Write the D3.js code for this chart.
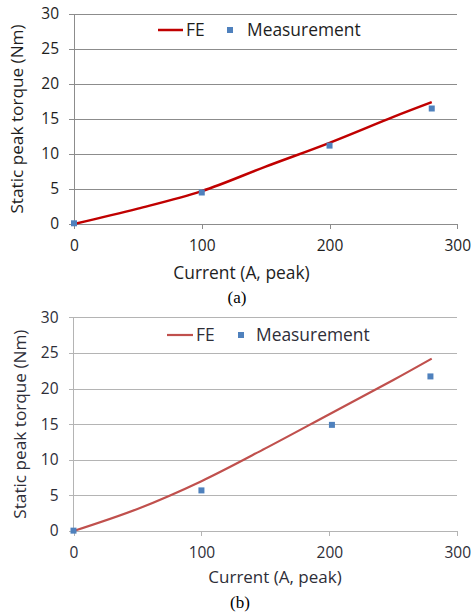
<!DOCTYPE html>
<html><head><meta charset="utf-8">
<script src="https://cdn.jsdelivr.net/npm/d3@7"></script>
<style>body{margin:0;background:#fff}svg{display:block}</style>
</head><body>
<svg id="c" width="473" height="616"></svg>
<script>
// ---- data ----
const currentTicks = [0, 100, 200, 300];
const torqueTicks = [0, 5, 10, 15, 20, 25, 30];
const feCurrentA = [0, 50, 100, 150, 200, 250, 280];
const feTorqueA = [0, 2.2, 4.7, 8.2, 11.6, 15.3, 17.4];
const measCurrentA = [0, 100, 200, 280];
const measTorqueA = [0.1, 4.5, 11.2, 16.5];
const feCurrentB = [0, 50, 100, 150, 200, 250, 280];
const feTorqueB = [0, 3.1, 7.0, 11.6, 16.4, 21.2, 24.2];
const measCurrentB = [0, 100, 202, 279];
const measTorqueB = [0.05, 5.7, 14.9, 21.7];
const seriesNames = ["FE", "Measurement"];
const captions = ["(a)", "(b)"];
const xTitle = "Current (A, peak)";
const yTitle = "Static peak torque (Nm)";

const svg = d3.select("#c");
const font = "'Open Sans', sans-serif";

function chart(cfg) {
  const x = d3.scaleLinear().domain([0, 300]).range([cfg.x0, cfg.x1]);
  const y = d3.scaleLinear().domain([0, 30]).range([cfg.y0, cfg.y1]);
  const g = svg.append("g");
  // grid + y ticks
  const ya = g.append("g").attr("transform", `translate(${cfg.x0},0)`)
    .call(d3.axisLeft(y).tickValues(torqueTicks).tickSize(-(cfg.x1 - cfg.x0)).tickSizeOuter(0));
  ya.select(".domain").remove();
  ya.selectAll(".tick line").attr("stroke", cfg.grid).attr("shape-rendering", "crispEdges")
    .attr("x1", -5).attr("x2", cfg.x1 - cfg.x0);
  ya.selectAll(".tick text").attr("x", -15).attr("font-family", font).attr("font-size", 15.5).attr("fill", cfg.text);
  // y axis line
  g.append("line").attr("x1", cfg.x0).attr("x2", cfg.x0).attr("y1", cfg.y0).attr("y2", cfg.y1)
    .attr("stroke", cfg.grid).attr("shape-rendering", "crispEdges");
  // x axis
  const xa = g.append("g").attr("transform", `translate(0,${cfg.y0})`)
    .call(d3.axisBottom(x).tickValues(currentTicks).tickSize(5).tickSizeOuter(0).tickPadding(11));
  xa.select(".domain").attr("stroke", cfg.grid).attr("shape-rendering", "crispEdges");
  xa.selectAll(".tick line").attr("stroke", cfg.grid).attr("shape-rendering", "crispEdges");
  xa.selectAll(".tick text").attr("font-family", font).attr("font-size", 15.5).attr("fill", cfg.text);
  // FE line
  const pts = cfg.feX.map((v, i) => [v, cfg.feY[i]]);
  g.append("path").datum(pts).attr("fill", "none").attr("stroke", cfg.lineColor).attr("stroke-width", cfg.lw)
    .attr("d", d3.line().x(d => x(d[0])).y(d => y(d[1])).curve(d3.curveCatmullRom.alpha(0.5)));
  // measurements
  g.selectAll("rect.m").data(cfg.mX.map((v, i) => [v, cfg.mY[i]])).join("rect")
    .attr("x", d => x(d[0]) - 3).attr("y", d => y(d[1]) - 3).attr("width", 6).attr("height", 6)
    .attr("fill", "#4F81BD");
  // legend
  g.append("line").attr("x1", cfg.lg.l0).attr("x2", cfg.lg.l1).attr("y1", cfg.lg.y).attr("y2", cfg.lg.y)
    .attr("stroke", cfg.lineColor).attr("stroke-width", cfg.lw);
  g.append("text").attr("x", cfg.lg.l1 + 3).attr("y", cfg.lg.y).attr("dy", "0.35em").text(seriesNames[0])
    .attr("font-family", font).attr("font-size", 17.4).attr("fill", cfg.text);
  g.append("rect").attr("x", cfg.lg.m - 3).attr("y", cfg.lg.y - 3).attr("width", 6).attr("height", 6).attr("fill", "#4F81BD");
  g.append("text").attr("x", cfg.lg.mt).attr("y", cfg.lg.y).attr("dy", "0.35em").text(seriesNames[1])
    .attr("font-family", font).attr("font-size", 17.4).attr("fill", cfg.text);
  // titles
  g.append("text").attr("x", cfg.xtX).attr("y", cfg.xtY).attr("dy", "0.35em").attr("text-anchor", "middle")
    .text(xTitle).attr("font-family", font).attr("font-size", cfg.xtS).attr("fill", cfg.text);
  g.append("text").attr("transform", `translate(${cfg.ytX},${(cfg.y0 + cfg.y1) / 2}) rotate(-90)`)
    .attr("dy", "0.35em").attr("text-anchor", "middle")
    .text(yTitle).attr("font-family", font).attr("font-size", 17.2).attr("fill", cfg.text);
  g.append("text").attr("x", cfg.capX).attr("y", cfg.capY).attr("dy", "0.35em").attr("text-anchor", "middle")
    .text(cfg.cap).attr("font-family", "'Liberation Serif', 'Times New Roman', serif").attr("font-size", 17).attr("fill", "#000");
}

chart({x0: 74, x1: 457.3, y0: 224, y1: 14, grid: "#8c8c8c", text: "#1e1e1e",
  feX: feCurrentA, feY: feTorqueA, mX: measCurrentA, mY: measTorqueA,
  lineColor: "#C00000", lw: 2.5,
  lg: {l0: 158, l1: 183, y: 30, m: 230, mt: 247},
  xtX: 241.5, xtY: 273, xtS: 17.4, ytX: 17, capX: 237, capY: 297, cap: captions[0]});

chart({x0: 73.5, x1: 457.3, y0: 531, y1: 317.3, grid: "#b4b4b4", text: "#2e2e38",
  feX: feCurrentB, feY: feTorqueB, mX: measCurrentB, mY: measTorqueB,
  lineColor: "#C0504D", lw: 2.2,
  lg: {l0: 167, l1: 193, y: 335, m: 241, mt: 256},
  xtX: 275, xtY: 577, xtS: 17, ytX: 19.5, capX: 240, capY: 602, cap: captions[1]});
</script>
</body></html>
